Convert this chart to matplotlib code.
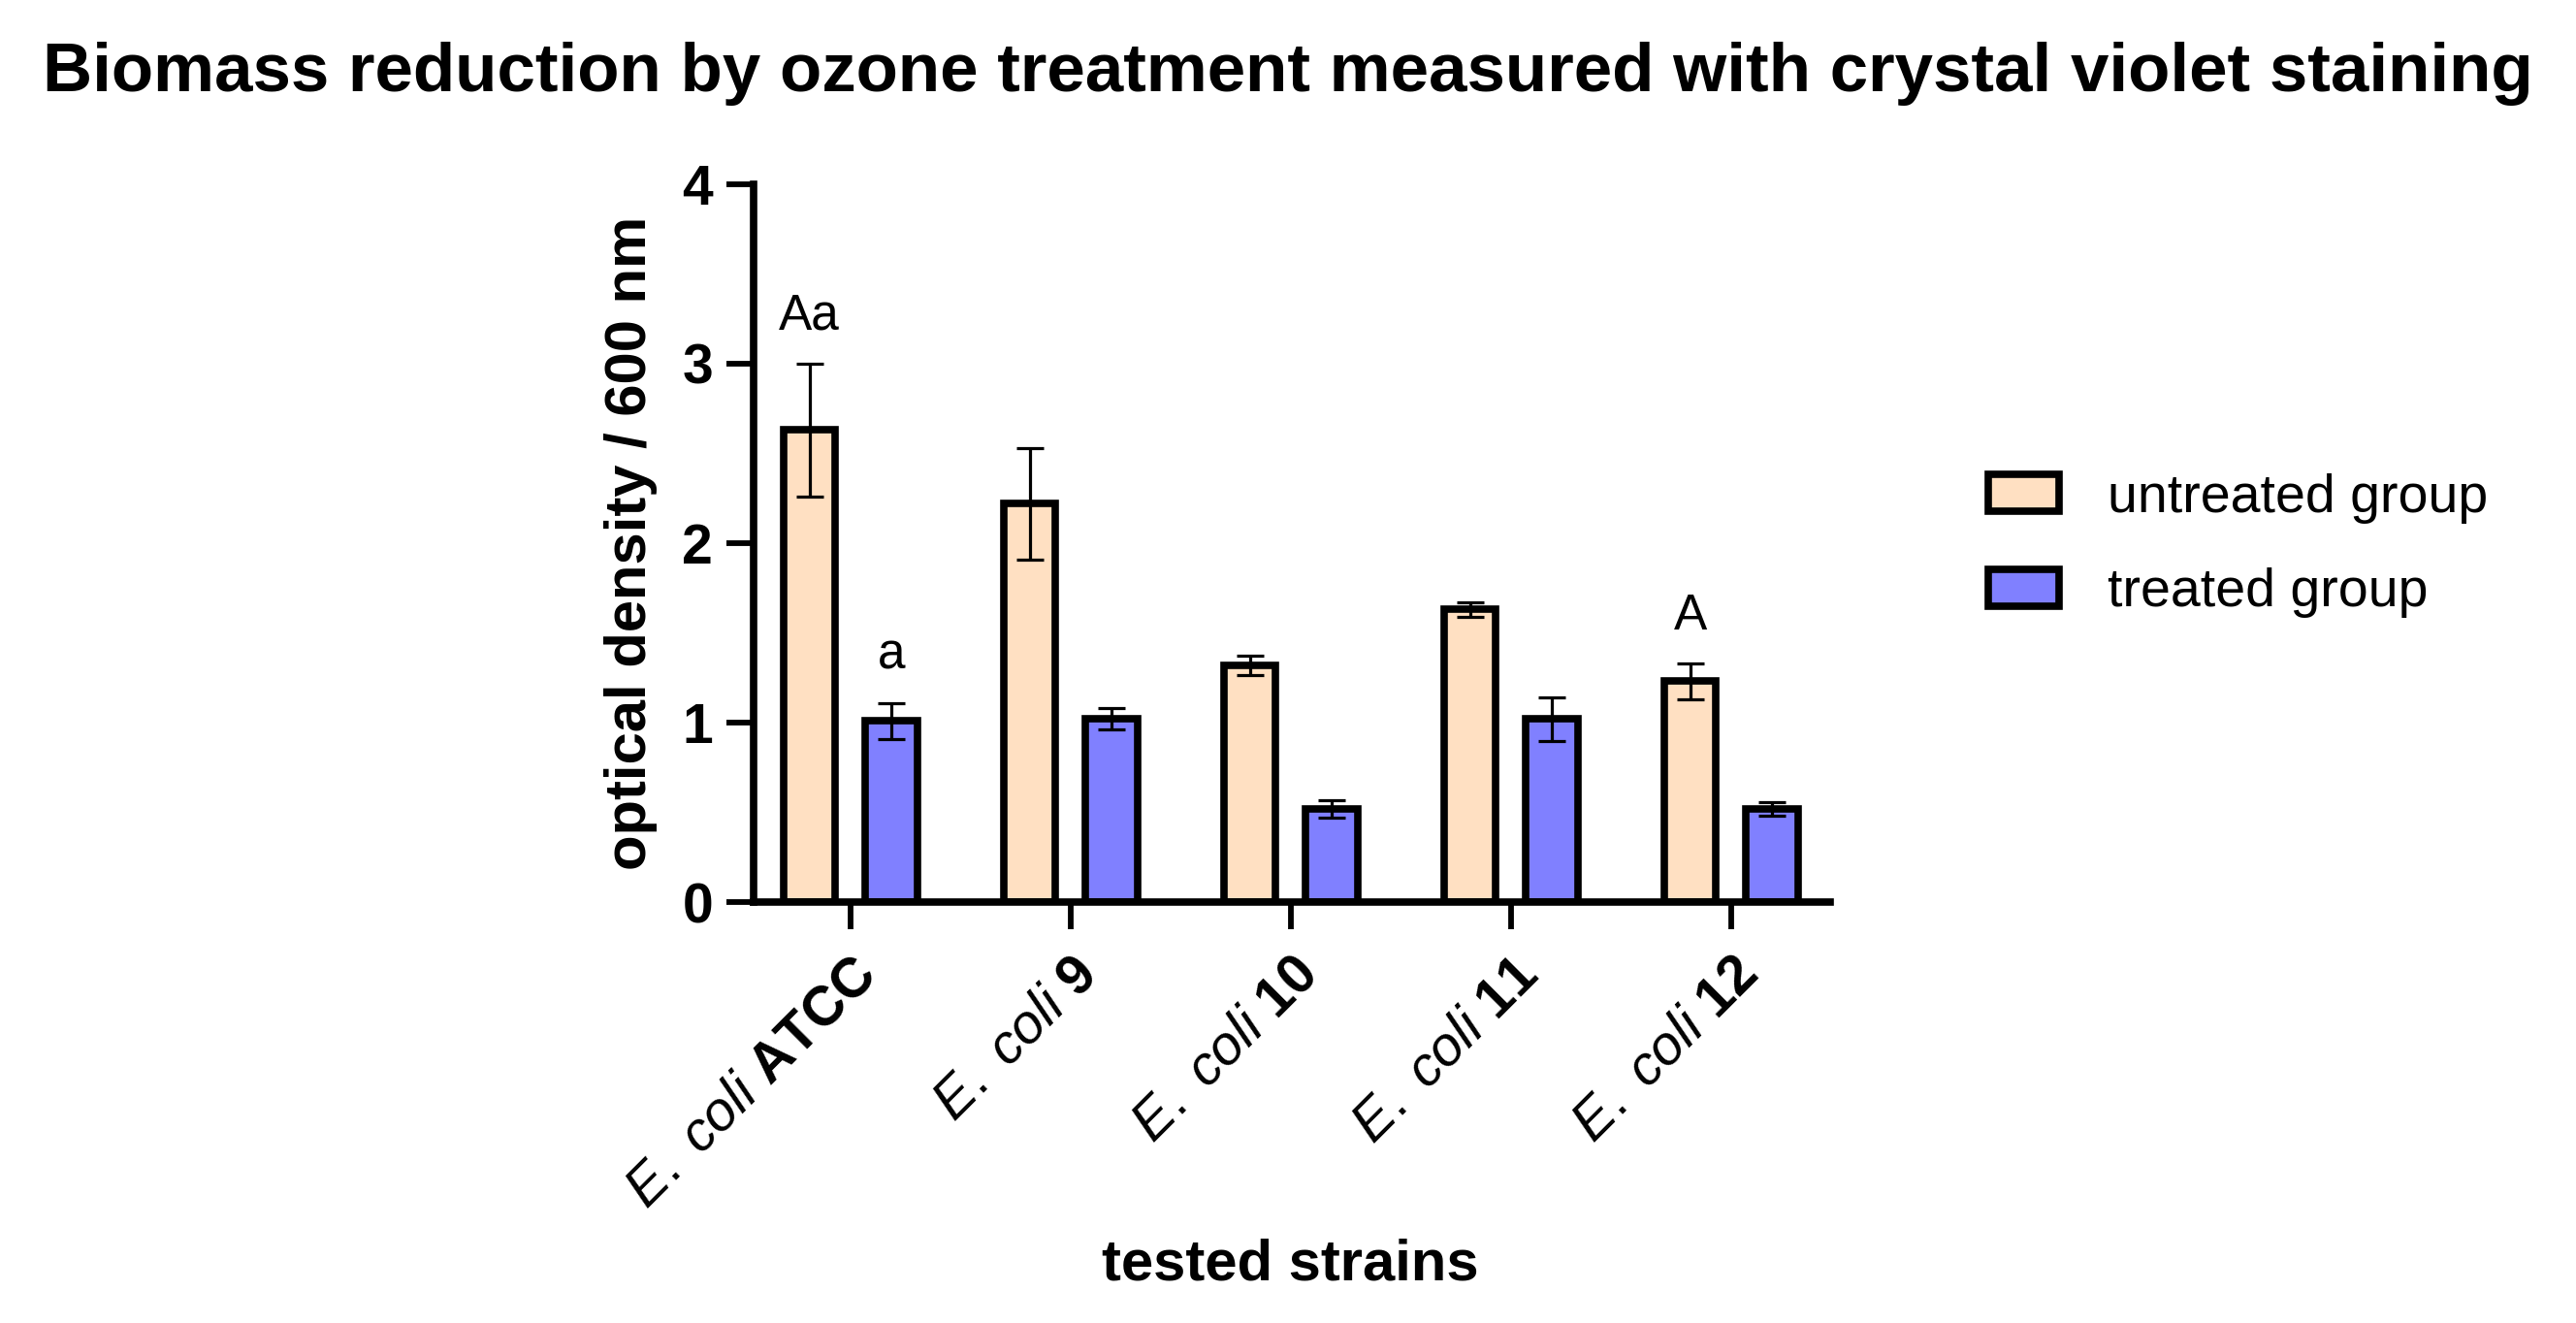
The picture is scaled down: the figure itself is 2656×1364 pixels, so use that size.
#!/usr/bin/env python
# biomass reduction bar chart (crystal violet staining), untreated vs treated
import numpy as np
import matplotlib
matplotlib.use("Agg")
import matplotlib.pyplot as plt
from matplotlib.patches import Patch

# data
strains = [r"$\it{E.\ coli}$ $\bf{ATCC}$", r"$\it{E.\ coli}$ $\bf{9}$",
           r"$\it{E.\ coli}$ $\bf{10}$", r"$\it{E.\ coli}$ $\bf{11}$",
           r"$\it{E.\ coli}$ $\bf{12}$"]
untreated = [2.63, 2.22, 1.32, 1.63, 1.23]
untreated_err = [0.37, 0.31, 0.055, 0.04, 0.10]
treated = [1.01, 1.02, 0.52, 1.02, 0.52]
treated_err = [0.10, 0.06, 0.05, 0.12, 0.04]
# significance letters: (strain index, group, letter)
letters = [(0, "untreated", "Aa"), (0, "treated", "a"), (4, "untreated", "A")]
yticks = [0, 1, 2, 3, 4]

plt.rcParams['font.family'] = 'Liberation Sans'
plt.rcParams['mathtext.fontset'] = 'custom'
plt.rcParams['mathtext.rm'] = 'Liberation Sans'
plt.rcParams['mathtext.it'] = 'Liberation Sans:italic'
plt.rcParams['mathtext.bf'] = 'Liberation Sans:bold'

col_u = '#FFE0C2'
col_t = '#8080FF'
lw = 5.5

fig = plt.figure(figsize=(26.56, 13.64), dpi=100)
ax = fig.add_axes([0.2925, 0.318, 0.418, 0.543])

x = np.arange(len(strains))
w = 0.235
off = 0.186
ax.bar(x - off, untreated, w, color=col_u, edgecolor='black', linewidth=lw, zorder=2)
ax.bar(x + off, treated, w, color=col_t, edgecolor='black', linewidth=lw, zorder=2)
ax.errorbar(x - off, untreated, yerr=untreated_err, fmt='none', ecolor='black',
            elinewidth=2.3, capsize=10, capthick=2.3, zorder=3)
ax.errorbar(x + off, treated, yerr=treated_err, fmt='none', ecolor='black',
            elinewidth=2.3, capsize=10, capthick=2.3, zorder=3)

for i, grp, txt in letters:
    if grp == "untreated":
        xp, yp = x[i] - off, untreated[i] + untreated_err[i]
    else:
        xp, yp = x[i] + off, treated[i] + treated_err[i]
    ax.text(xp, yp + 0.13, txt, ha='center', va='bottom', fontsize=37)

ax.set_xlim(-0.44, 4.45)
ax.set_ylim(0, 4)
ax.set_yticks(yticks)
ax.set_yticklabels([str(v) for v in yticks], fontweight='bold', fontsize=41)
ax.set_xticks(x)
ax.set_xticklabels(strains, rotation=45, ha='right', va='top',
                   rotation_mode='anchor', fontsize=41)

for s in ['top', 'right']:
    ax.spines[s].set_visible(False)
for s in ['left', 'bottom']:
    ax.spines[s].set_linewidth(lw)
ax.tick_params(axis='both', length=20, width=4.2, pad=10)
ax.tick_params(axis='x', pad=14)

ax.set_ylabel("optical density / 600 nm", fontweight='bold', fontsize=43, labelpad=18)
fig.text(0.501, 0.044, "tested strains", ha='center', va='center',
         fontweight='bold', fontsize=43)
fig.suptitle("Biomass reduction by ozone treatment measured with crystal violet staining",
             fontweight='bold', fontsize=51, x=0.5, y=0.944, va='center')

handles = [Patch(facecolor=col_u, edgecolor='black', linewidth=lw, label='untreated group'),
           Patch(facecolor=col_t, edgecolor='black', linewidth=lw, label='treated group')]
fig.legend(handles=handles, loc='center left', bbox_to_anchor=(0.772, 0.5875),
           frameon=False, fontsize=40, handlelength=1.3, handleheight=0.67,
           handletextpad=0.9, labelspacing=0.82, borderpad=0, borderaxespad=0)

fig.savefig("out.png", dpi=100)
